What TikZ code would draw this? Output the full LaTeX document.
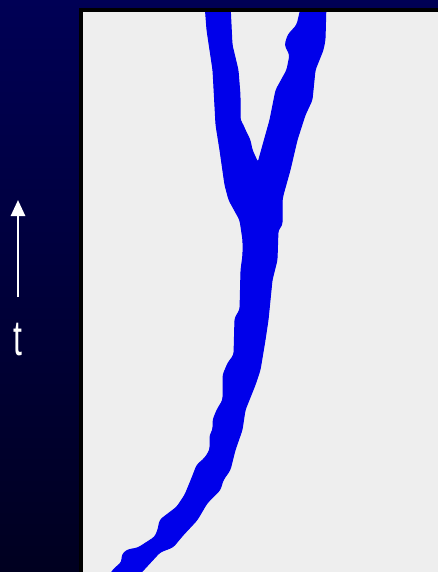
\documentclass[tikz,border=0pt]{standalone}
\usepackage{fontspec}
\setmainfont{Liberation Sans}
\usetikzlibrary{arrows.meta}
\definecolor{navytop}{RGB}{0,0,85}
\definecolor{navybot}{RGB}{0,0,32}
\definecolor{panelgray}{RGB}{238,238,238}
\definecolor{streamblue}{RGB}{0,0,234}
\tikzset{
  stream/.style={fill=streamblue, draw=streamblue, line width=1pt, line join=round, rounded corners=3pt},
  timearrow/.style={draw=white, line width=2.6pt, -{Triangle[width=14pt,length=16pt]}},
  timelabel/.style={text=white, font=\fontsize{40}{44}\selectfont, inner sep=0pt, xscale=0.8, yscale=1.25}
}
\begin{document}
\begin{tikzpicture}[x=1pt,y=-1pt]
\useasboundingbox (0,0) rectangle (438,572);
\shade[top color=navytop, bottom color=navybot] (0,0) rectangle (438,572);
\fill[panelgray] (81,10) rectangle (442,576);
% stream
\filldraw[stream] (205,4) -- (207,30) -- (213,70) -- (216,125) -- (220,150) -- (225,185) -- (229,200) -- (240,220) -- (243,240) -- (243,255) -- (241,270) -- (240,310) -- (235,318) -- (234,355) -- (228,363) -- (223,375) -- (223,400) -- (217,410) -- (213,420) -- (213,430) -- (210,435) -- (210,450) -- (205,458) -- (197,465) -- (192,478) -- (185,495) -- (177,507) -- (160,520) -- (158,530) -- (155,537) -- (138,548) -- (127,550) -- (122,555) -- (122,562) -- (113,570) -- (108,578) -- (136,578) -- (160,552) -- (173,547) -- (183,535) -- (197,520) -- (207,503) -- (220,490) -- (223,480) -- (230,470) -- (235,450) -- (242,430) -- (245,410) -- (255,385) -- (260,370) -- (265,340) -- (268,320) -- (270,300) -- (272,280) -- (277,260) -- (278,230) -- (282,225) -- (282,200) -- (283,195) -- (290,170) -- (297,140) -- (305,115) -- (312,100) -- (315,70) -- (323,50) -- (325,40) -- (326,4) -- (302,4) -- (297,25) -- (288,35) -- (285,45) -- (290,55) -- (287,70) -- (276,90) -- (270,120) -- (263,145) -- (258,163) -- (252,150) -- (250,140) -- (245,130) -- (243,125) -- (240,120) -- (240,95) -- (238,70) -- (232,45) -- (230,4) -- cycle;
% navy strip above the panel
\shade[top color=navytop, bottom color=navytop!97!navybot] (78,0) rectangle (442,8);
% panel border
\draw[black, line width=4pt] (81,580) -- (81,10) -- (442,10);
% time axis
\coordinate (tstart) at (18,297);
\coordinate (tend) at (18,200);
\draw[timearrow] (tstart) -- (tend);
\node[timelabel] (tlab) at (18,340) {t};
\end{tikzpicture}
\end{document}
